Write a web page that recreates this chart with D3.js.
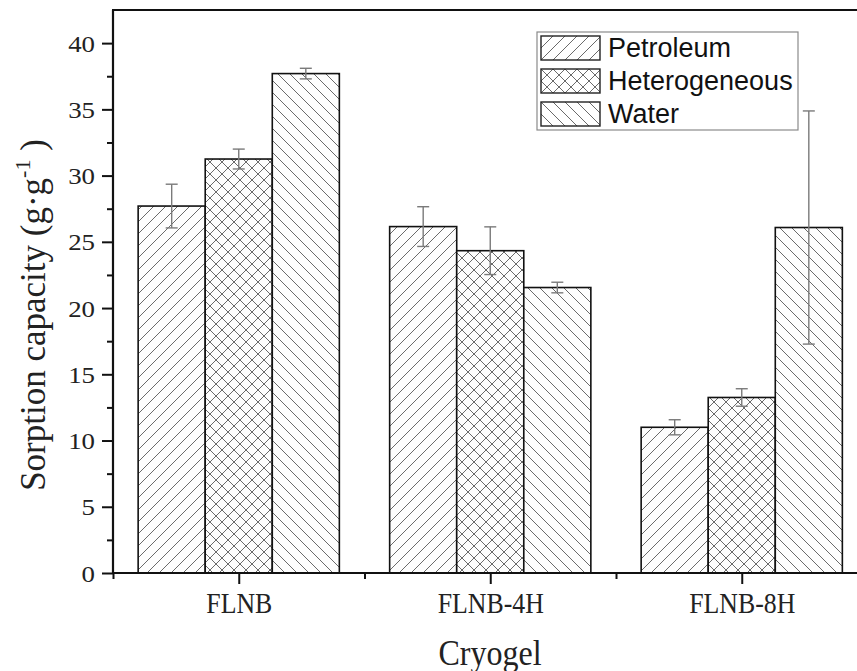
<!DOCTYPE html>
<html lang="en">
  <head>
    <meta charset="utf-8">
    <title>Sorption capacity</title>
    <script src="https://d3js.org/d3.v7.min.js"></script>
    <style>
      body { margin: 0; background: #fff; }
    </style>
  </head>
  <body>
    <div id="chart"></div>
    <script type="text/javascript">
      // data
      const categories = ["FLNB", "FLNB-4H", "FLNB-8H"];
      const seriesNames = ["Petroleum", "Heterogeneous", "Water"];
      const petroleum = [27.7, 26.15, 11.0];
      const petroleumErr = [1.65, 1.5, 0.57];
      const heterogeneous = [31.25, 24.33, 13.25];
      const heterogeneousErr = [0.75, 1.8, 0.66];
      const water = [37.7, 21.55, 26.08];
      const waterErr = [0.4, 0.4, 8.8];
      const yTicks = [0, 5, 10, 15, 20, 25, 30, 35, 40];
      const yMinorTicks = [2.5, 7.5, 12.5, 17.5, 22.5, 27.5, 32.5, 37.5];

      const patterns = ["hatch-fwd", "hatch-cross", "hatch-back"];
      const serif = "'Liberation Serif', 'Times New Roman', serif";

      var series = [
        { name: seriesNames[0], values: petroleum, err: petroleumErr, pat: patterns[0] },
        { name: seriesNames[1], values: heterogeneous, err: heterogeneousErr, pat: patterns[1] },
        { name: seriesNames[2], values: water, err: waterErr, pat: patterns[2] }
      ];

      var svg = d3.select("#chart")
        .append("svg")
        .attr("width", 857)
        .attr("height", 671);

      // hatch patterns
      var defs = svg.append("defs");
      var makePattern = function(id, d) {
        defs.append("pattern")
          .attr("id", id)
          .attr("patternUnits", "userSpaceOnUse")
          .attr("width", 12)
          .attr("height", 12)
          .append("path")
            .attr("d", d)
            .attr("stroke", "#6a6a6a")
            .attr("stroke-width", 1)
            .attr("fill", "none");
      };
      makePattern("hatch-fwd", "M-3,3 L3,-3 M0,12 L12,0 M9,15 L15,9");
      makePattern("hatch-back", "M-3,9 L3,15 M0,0 L12,12 M9,-3 L15,3");
      makePattern("hatch-cross", "M-3,3 L3,-3 M0,12 L12,0 M9,15 L15,9 M-3,9 L3,15 M0,0 L12,12 M9,-3 L15,3");

      // scales
      var x = d3.scaleLinear()
        .domain([0.5, 3.5])
        .range([113, 867.5]);

      var inner = d3.scaleBand()
        .domain(seriesNames)
        .range([-0.4, 0.4]);

      var y = d3.scaleLinear()
        .domain([0, 42.5])
        .range([573, 10]);

      // bars
      series.forEach(function(s) {
        svg.append("g").selectAll("rect")
          .data(s.values)
          .enter()
          .append("rect")
            .attr("x", (d, i) => x(i + 1 + inner(s.name)))
            .attr("y", (d) => y(d))
            .attr("width", x(inner.bandwidth()) - x(0))
            .attr("height", (d) => y(0) - y(d))
            .attr("fill", "#fdfdfd");
        svg.append("g").selectAll("rect")
          .data(s.values)
          .enter()
          .append("rect")
            .attr("x", (d, i) => x(i + 1 + inner(s.name)))
            .attr("y", (d) => y(d))
            .attr("width", x(inner.bandwidth()) - x(0))
            .attr("height", (d) => y(0) - y(d))
            .attr("fill", "url(#" + s.pat + ")")
            .attr("stroke", "#111")
            .attr("stroke-width", 1.6);
      });

      // error bars
      series.forEach(function(s) {
        var g = svg.append("g")
          .attr("stroke", "#7a7a7a")
          .attr("stroke-width", 1.4);
        s.values.forEach(function(v, i) {
          var cx = x(i + 1 + inner(s.name) + inner.bandwidth() / 2);
          var top = y(v + s.err[i]);
          var bot = y(v - s.err[i]);
          g.append("line").attr("x1", cx).attr("x2", cx).attr("y1", top).attr("y2", bot);
          g.append("line").attr("x1", cx - 6).attr("x2", cx + 6).attr("y1", top).attr("y2", top);
          g.append("line").attr("x1", cx - 6).attr("x2", cx + 6).attr("y1", bot).attr("y2", bot);
        });
      });

      // y axis
      var yAxis = d3.axisLeft(y).tickValues(yTicks).tickSize(11).tickFormat(d3.format("d"));
      var yg = svg.append("g")
        .attr("transform", "translate(113, 0)")
        .call(yAxis);
      yg.select(".domain").remove();
      yg.selectAll(".tick line").attr("stroke", "#111").attr("stroke-width", 2);
      yg.selectAll(".tick text")
        .attr("x", 0)
        .attr("dy", "0.34em")
        .attr("transform", "translate(-18, 0) scale(1.12, 1)")
        .style("font-family", serif)
        .style("font-size", "24px")
        .attr("fill", "#222");

      var yMinor = svg.append("g")
        .attr("transform", "translate(113, 0)")
        .call(d3.axisLeft(y).tickValues(yMinorTicks).tickSize(6).tickFormat(""));
      yMinor.select(".domain").remove();
      yMinor.selectAll(".tick line").attr("stroke", "#111").attr("stroke-width", 2);

      // x axis
      var xAxis = d3.axisBottom(x).tickValues([1, 2, 3]).tickSize(11)
        .tickFormat((d) => categories[d - 1]);
      var xg = svg.append("g")
        .attr("transform", "translate(0, 573)")
        .call(xAxis);
      xg.select(".domain").remove();
      xg.selectAll(".tick line").attr("stroke", "#111").attr("stroke-width", 2);
      xg.selectAll(".tick text")
        .attr("y", 0)
        .attr("dy", 0)
        .attr("transform", "translate(0, 40) scale(0.89, 1)")
        .style("font-family", serif)
        .style("font-size", "29px")
        .attr("fill", "#222");

      var xMinor = svg.append("g")
        .attr("transform", "translate(0, 573)")
        .call(d3.axisBottom(x).tickValues([0.5, 1.5, 2.5]).tickSize(6).tickFormat(""));
      xMinor.select(".domain").remove();
      xMinor.selectAll(".tick line").attr("stroke", "#111").attr("stroke-width", 2);

      // frame lines
      svg.append("line")
        .attr("x1", 113).attr("x2", 113).attr("y1", 10).attr("y2", 574)
        .attr("stroke", "#111").attr("stroke-width", 2.2);
      svg.append("line")
        .attr("x1", 112).attr("x2", 868).attr("y1", 573).attr("y2", 573)
        .attr("stroke", "#111").attr("stroke-width", 2.2);
      svg.append("line")
        .attr("x1", 112).attr("x2", 868).attr("y1", 10).attr("y2", 10)
        .attr("stroke", "#111").attr("stroke-width", 2.2);

      // axis titles
      svg.append("text")
        .attr("transform", "translate(490, 665) scale(0.89, 1)")
        .attr("text-anchor", "middle")
        .style("font-family", serif)
        .style("font-size", "36px")
        .attr("fill", "#222")
        .text("Cryogel");

      var yTitle = svg.append("text")
        .attr("transform", "translate(45, 315) rotate(-90)")
        .attr("text-anchor", "middle")
        .style("font-family", serif)
        .style("font-size", "35px")
        .attr("fill", "#222");
      yTitle.append("tspan").text("Sorption capacity (g\u00b7g");
      yTitle.append("tspan").attr("dy", -15).style("font-size", "22px").text("-1");
      yTitle.append("tspan").attr("dy", 15).text(" )");

      // legend
      var legend = svg.append("g");
      legend.append("rect")
        .attr("x", 537).attr("y", 32).attr("width", 261).attr("height", 98)
        .attr("fill", "#fff").attr("stroke", "#8a8a8a").attr("stroke-width", 1.2);
      var items = legend.selectAll(".item")
        .data(series)
        .enter()
        .append("g")
          .attr("class", "item")
          .attr("transform", (d, i) => "translate(541, " + (36 + i * 33) + ")");
      items.append("rect")
        .attr("width", 59).attr("height", 24)
        .attr("fill", (d) => "url(#" + d.pat + ")")
        .attr("stroke", "#222").attr("stroke-width", 1.4);
      items.append("text")
        .attr("x", 67).attr("y", 21)
        .style("font-family", "'Liberation Sans', Arial, sans-serif")
        .style("font-size", "27px")
        .attr("fill", "#111")
        .text((d) => d.name);
    </script>
  </body>
</html>
